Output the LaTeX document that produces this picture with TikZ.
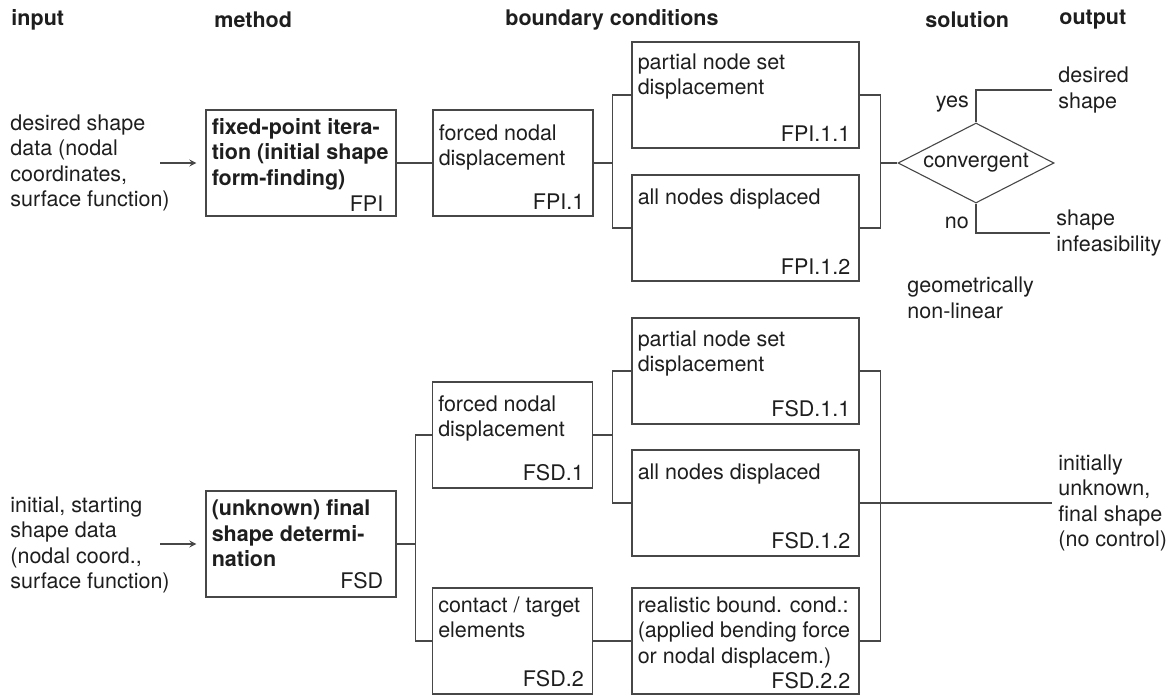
\documentclass[tikz,border=0pt]{standalone}
\usepackage{fontspec}
\setmainfont{TeX Gyre Heros}
\usetikzlibrary{shapes.geometric}

\definecolor{inkgray}{HTML}{1E1E1E}
\definecolor{linegray}{HTML}{474747}
\newcommand{\diagfont}{\fontsize{10.75pt}{12.75pt}\selectfont}

\tikzset{
  headtxt/.style={anchor=west, inner sep=3pt, font=\diagfont\bfseries},
  plaintxt/.style={anchor=west, align=left, inner sep=3pt},
  stepbox/.style={draw=linegray, line width=0.65pt, minimum width=113.5pt,
    minimum height=53pt, inner sep=0pt},
  boxtxt/.style={anchor=north west, align=left, inner xsep=3pt, inner ysep=6pt},
  idtxt/.style={anchor=south east, inner xsep=4.5pt, inner ysep=3.5pt},
  conn/.style={draw=linegray, line width=0.55pt},
}

\begin{document}
\begin{tikzpicture}[x=0.5pt, y=-0.5pt, >=stealth,
    every node/.style={font=\diagfont, text=inkgray}]
    \useasboundingbox (0,0) rectangle (1176,696);

    % Spaltenkoepfe
    \node[headtxt] (hInput) at (5,20) {input};
    \node[headtxt] (hMethod) at (208,20) {method};
    \node[headtxt] (hBound) at (499,20) {boundary conditions};
    \node[headtxt] (hSol) at (919,20) {solution};
    \node[headtxt] (hOut) at (1053,20) {output};

    % Eingaben
    \node[plaintxt] (inFPI) at (4,163) {desired shape\\data (nodal\\coordinates,\\surface function)};
    \node[plaintxt] (inFSD) at (4,545) {initial, starting\\shape data\\(nodal coord.,\\surface function)};
    \coordinate (inA) at (160,163);
    \coordinate (inB) at (160,544);

    % Methode FPI
    \node[stepbox, minimum width=95pt,
        label={[boxtxt, inner ysep=4.3pt, font=\diagfont\bfseries]north west:{fixed-point itera-\\tion (initial shape\\form-finding)}},
        label={[idtxt, inner xsep=6.5pt, inner ysep=2.5pt]south east:FPI}] (fpi) at (301,163) {};
    \node[stepbox, minimum width=80pt,
        label={[boxtxt, inner ysep=7.3pt]north west:{forced nodal\\displacement}},
        label={[idtxt]south east:FPI.1}] (fpi1) at (513,163) {};
    \node[stepbox,
        label={[boxtxt, inner ysep=5.8pt]north west:{partial node set\\displacement}},
        label={[idtxt]south east:FPI.1.1}] (fpi11) at (745.5,95) {};
    \node[stepbox,
        label={[boxtxt, inner ysep=7pt]north west:{all nodes displaced}},
        label={[idtxt]south east:FPI.1.2}] (fpi12) at (745.5,228) {};

    % Loesung
    \node[diamond, draw=linegray, line width=0.55pt, aspect=1.95, minimum width=78pt,
        minimum height=40pt, inner sep=0pt] (conv) at (976,163) {convergent};
    \node[plaintxt] (outYes) at (1052,90) {desired\\shape};
    \node[plaintxt] (outNo) at (1050,233) {shape\\infeasibility};
    \node[plaintxt] (geoNL) at (901,298) {geometrically\\non-linear};

    % Methode FSD
    \node[stepbox, minimum width=95pt,
        label={[boxtxt, inner ysep=4.5pt, font=\diagfont\bfseries]north west:{(unknown) final\\shape determi-\\nation}},
        label={[idtxt, inner xsep=6.5pt, inner ysep=4pt]south east:FSD}] (fsd) at (301,544) {};
    \node[stepbox, minimum width=80pt,
        label={[boxtxt, inner ysep=7pt]north west:{forced nodal\\displacement}},
        label={[idtxt]south east:FSD.1}] (fsd1) at (512.5,435) {};
    \node[stepbox, minimum width=80pt,
        label={[boxtxt, inner ysep=4.5pt]north west:{contact / target\\elements}},
        label={[idtxt]south east:FSD.2}] (fsd2) at (512.5,641) {};
    \node[stepbox,
        label={[boxtxt, inner ysep=6.5pt]north west:{partial node set\\displacement}},
        label={[idtxt]south east:FSD.1.1}] (fsd11) at (745.5,371) {};
    \node[stepbox,
        label={[boxtxt, inner ysep=7pt]north west:{all nodes displaced}},
        label={[idtxt]south east:FSD.1.2}] (fsd12) at (745.5,503) {};
    \node[stepbox,
        label={[boxtxt, inner ysep=4.5pt]north west:{realistic bound. cond.:\\(applied bending force\\or nodal displacem.)}},
        label={[idtxt, inner ysep=2.5pt]south east:FSD.2.2}] (fsd22) at (745.5,641) {};
    \node[plaintxt] (outFSD) at (1052,503) {initially\\unknown,\\final shape\\(no control)};

    % Verbindungen FPI
    \draw[conn, ->, shorten >=4.5pt] (inA) -- (fpi.west);
    \draw[conn] (fpi) -- (fpi1);
    \draw[conn] (fpi1.east) -- ++(19,0) coordinate (fpiSplit) |- (fpi11.west);
    \draw[conn] (fpiSplit) |- (fpi12.west);
    \draw[conn] (fpi11.east) -- ++(21,0) coordinate (fpiJoin) |- (fpi12.east);
    \draw[conn] (fpiJoin |- conv.west) -- (conv.west);
    \draw[conn] (conv.north) |- node[pos=0.29, left] (lblYes) {yes} (outYes.west);
    \draw[conn] (conv.south) |- node[pos=0.32, left] (lblNo) {no} (outNo.west);

    % Verbindungen FSD
    \draw[conn, ->, shorten >=4.5pt] (inB) -- (fsd.west);
    \draw[conn] (fsd.east) -- ++(19,0) coordinate (fsdSplit) |- (fsd1.west);
    \draw[conn] (fsdSplit) |- (fsd2.west);
    \draw[conn] (fsd1.east) -- ++(19.5,0) coordinate (fsd1Split) |- (fsd11.west);
    \draw[conn] (fsd1Split) |- (fsd12.west);
    \draw[conn] (fsd2) -- (fsd22);
    \draw[conn] (fsd11.east) -- ++(21,0) coordinate (fsdJoin) |- (fsd22.east);
    \draw[conn] (fsd12.east) -- (outFSD.west);
\end{tikzpicture}
\end{document}
